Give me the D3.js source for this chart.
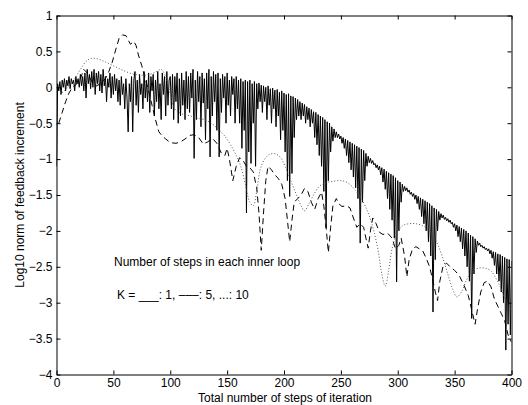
<!DOCTYPE html>
<html><head><meta charset="utf-8">
<script src="https://cdn.jsdelivr.net/npm/d3@7"></script>
<style>
body{margin:0;background:#fff}
svg{display:block}
text{font-family:"Liberation Sans",Arial,Helvetica,sans-serif;fill:#000}
</style>
</head><body>
<svg id="chart" width="528" height="405"></svg>
<script>
// K = 1 (solid): value at every step 0..400
const solidK1 = [
-1.1,0.05,-0.05,0.08,-0.1,0.1,0.0,0.12,-0.05,0.1,
0.02,0.15,-0.02,0.12,0.05,0.1,-0.05,0.15,0.05,0.12,
0.0,0.18,0.02,0.15,-0.05,0.2,-0.15,0.25,0.05,0.18,
-0.02,0.22,0.0,0.25,-0.1,0.2,0.05,0.22,-0.05,0.18,
-0.08,0.25,0.02,0.15,-0.2,0.12,0.0,0.2,-0.15,0.15,
-0.1,0.18,-0.05,0.12,-0.2,0.1,-0.25,0.15,-0.1,0.05,
-0.3,0.12,-0.15,-0.62,0.05,-0.2,0.15,-0.62,0.1,0.22,
-0.25,0.1,-0.35,0.18,-0.1,0.05,-0.3,0.22,-0.15,0.1,
-0.2,0.2,-0.35,0.15,-0.05,0.18,-0.4,0.1,-0.2,0.22,
-0.3,0.05,-0.45,0.2,-0.1,0.15,-0.4,0.22,-0.25,0.1,
0.15,-0.3,0.18,-0.45,0.15,-0.2,0.2,-0.5,0.12,-0.4,
0.2,-0.25,0.1,-0.45,0.22,-0.3,0.15,-0.35,0.2,-0.15,
0.25,-0.99,0.1,-0.45,0.22,-0.2,0.15,-0.55,0.2,-0.22,
0.12,-0.73,0.2,-0.3,0.25,-0.97,0.15,-0.4,0.22,-0.2,
0.18,-0.6,0.2,-0.97,0.12,-0.35,0.18,-0.15,0.15,-0.5,
0.2,-0.25,0.1,-0.4,0.15,-0.1,0.12,-0.5,0.15,-0.3,
0.1,-0.5,0.12,-0.85,0.08,-0.6,0.1,-1.75,0.08,-0.9,
0.1,-1.06,0.05,-0.5,0.08,-1.1,0.05,-0.3,0.06,-0.2,
0.03,-0.35,0.02,-0.2,0.0,-0.45,0.02,-0.25,-0.02,-0.5,
-0.01,-0.3,-0.04,-0.55,-0.03,-0.4,-0.07,-0.73,-0.05,-0.6,
-0.08,-0.9,-0.1,-1.3,-0.09,-1.52,-0.12,-1.2,-0.13,-0.7,
-0.15,-0.45,-0.17,-0.4,-0.2,-0.45,-0.22,-0.4,-0.24,-0.5,
-0.27,-0.45,-0.29,-0.55,-0.31,-0.5,-0.34,-0.7,-0.35,-0.8,
-0.38,-0.95,-0.4,-1.1,-0.42,-1.45,-0.45,-1.96,-0.48,-1.3,
-0.5,-0.9,-0.55,-0.75,-0.58,-0.7,-0.62,-0.7,-0.65,-0.72,
-0.68,-0.78,-0.7,-0.85,-0.72,-0.95,-0.74,-1.05,-0.76,-1.15,
-0.78,-1.25,-0.8,-1.4,-0.82,-1.55,-0.84,-2.17,-0.86,-1.6,
-0.88,-1.3,-0.92,-1.1,-0.96,-1.05,-0.99,-1.06,-1.02,-1.08,
-1.06,-1.12,-1.08,-1.15,-1.1,-1.22,-1.12,-1.32,-1.14,-1.42,
-1.17,-1.55,-1.19,-1.7,-1.21,-1.85,-1.23,-2.1,-1.26,-2.71,
-1.3,-2.0,-1.32,-1.6,-1.35,-1.45,-1.38,-1.44,-1.4,-1.46,
-1.43,-1.49,-1.46,-1.52,-1.48,-1.56,-1.5,-1.62,-1.52,-1.7,
-1.54,-1.8,-1.56,-1.9,-1.58,-2.0,-1.6,-2.15,-1.62,-2.35,
-1.65,-3.13,-1.68,-2.4,-1.7,-2.0,-1.73,-1.85,-1.76,-1.82,
-1.78,-1.84,-1.81,-1.86,-1.83,-1.88,-1.85,-1.9,-1.88,-1.95,
-1.9,-2.0,-1.92,-2.08,-1.94,-2.15,-1.96,-2.25,-1.98,-2.35,
-2.0,-2.5,-2.03,-2.7,-2.06,-3.22,-2.08,-2.6,-2.11,-2.3,
-2.14,-2.2,-2.17,-2.22,-2.2,-2.24,-2.22,-2.26,-2.24,-2.28,
-2.25,-2.32,-2.27,-2.38,-2.29,-2.48,-2.3,-2.6,-2.32,-2.7,
-2.33,-2.85,-2.35,-3.0,-2.37,-3.66,-2.39,-3.3,-2.4,-3.45,
-2.42
];

// K = 5 (dashed)
const dashedSteps = [2,5,8,11,14,18,21,24,27,31,35,39,43,46,49,52,55,58,61,63,
65,68,70,72,75,78,81,84,87,90,93,96,100,105,109,113,117,121,125,129,
133,137,141,145,148,150,152,155,158,161,164,167,170,173,176,178,180,182,184,186,
189,192,195,198,201,203,205,207,209,212,215,218,221,224,227,230,233,235,237,239,
241,243,246,248,251,255,258,261,264,267,270,272,274,276,278,281,284,287,291,295,
298,301,303,306,308,310,313,316,319,322,325,328,331,333,335,337,340,343,346,350,
354,358,362,365,368,370,373,376,379,382,385,388,391,394,397,400];
const dashedK5 = [-0.5,-0.35,-0.2,-0.08,0.0,0.05,0.12,0.25,0.2,0.08,
0.02,0.05,0.12,0.22,0.35,0.52,0.68,0.73,0.72,0.66,
0.6,0.64,0.58,0.45,0.3,0.12,-0.05,-0.25,-0.45,-0.62,
-0.68,-0.72,-0.77,-0.78,-0.76,-0.72,-0.67,-0.66,-0.7,-0.79,
-0.76,-0.71,-0.78,-0.92,-0.95,-0.85,-1.0,-1.3,-1.1,-0.98,
-1.02,-1.1,-1.12,-1.18,-1.4,-1.75,-2.27,-1.75,-1.3,-1.1,
-1.15,-1.22,-1.27,-1.35,-1.55,-1.85,-2.15,-1.85,-1.6,-1.55,
-1.5,-1.41,-1.45,-1.6,-1.7,-1.55,-1.46,-1.65,-1.95,-2.3,
-1.95,-1.65,-1.55,-1.62,-1.66,-1.65,-1.68,-1.82,-1.95,-1.9,
-1.95,-2.1,-2.24,-2.0,-1.82,-1.9,-2.02,-2.05,-2.03,-2.1,
-2.25,-2.2,-2.1,-2.35,-2.64,-2.4,-2.25,-2.22,-2.25,-2.28,
-2.38,-2.5,-2.7,-2.85,-2.97,-2.7,-2.48,-2.45,-2.5,-2.55,
-2.62,-2.75,-2.9,-3.1,-3.3,-3.1,-2.85,-2.72,-2.7,-2.78,
-2.95,-3.05,-3.15,-3.25,-3.45,-3.55];

// K = 10 (dotted)
const dottedSteps = [3,10,16,21,26,30,35,42,50,58,66,74,82,88,92,96,100,104,110,118,
124,130,136,142,148,153,158,162,166,170,173,176,179,183,188,193,197,201,206,211,
215,218,222,226,231,237,243,250,256,262,268,274,279,283,286,289,292,295,299,304,
310,316,322,328,334,339,344,348,352,356,360,365,371,377,382,387,392,396,400];
const dottedK10 = [-0.1,0.0,0.12,0.25,0.36,0.4,0.4,0.36,0.3,0.24,
0.19,0.17,0.18,0.22,0.25,0.15,-0.1,-0.3,-0.37,-0.4,
-0.43,-0.45,-0.5,-0.58,-0.68,-0.8,-0.95,-1.1,-1.35,-1.6,
-1.65,-1.45,-1.15,-1.0,-0.93,-0.93,-0.98,-1.1,-1.3,-1.5,
-1.65,-1.72,-1.62,-1.5,-1.38,-1.33,-1.31,-1.3,-1.33,-1.42,
-1.55,-1.75,-2.0,-2.3,-2.6,-2.77,-2.55,-2.25,-2.05,-1.93,
-1.9,-1.9,-1.93,-2.0,-2.15,-2.35,-2.6,-2.8,-2.92,-2.85,
-2.7,-2.57,-2.52,-2.52,-2.56,-2.68,-2.85,-3.0,-3.1];

const xTicks = [0,50,100,150,200,250,300,350,400];
const yTicks = [-4,-3.5,-3,-2.5,-2,-1.5,-1,-0.5,0,0.5,1];
const xLabel = "Total number of steps of iteration";
const yLabel = "Log10 norm of feedback increment";
const note1 = "Number of steps in each inner loop";
const note2 = "K = ___: 1, –––: 5, ...: 10";

const svg = d3.select("#chart");
const L = 56.5, R = 511.5, T = 15.5, B = 374.5;
const x = d3.scaleLinear().domain([0,400]).range([L,R]);
const y = d3.scaleLinear().domain([-4,1]).range([B,T]);

const fmt = d => (d < 0 ? "\u2212" + String(-d) : String(d));

function styleAxis(g){
  g.selectAll("path.domain").attr("stroke","#000").attr("stroke-width",1);
  g.selectAll(".tick line").attr("stroke","#000").attr("stroke-width",1);
  g.selectAll(".tick text").attr("font-size",12).attr("font-family","'Liberation Sans',Arial,sans-serif").attr("fill","#000");
}

svg.append("g").attr("transform",`translate(0,${B})`)
  .call(d3.axisBottom(x).tickValues(xTicks).tickFormat(fmt).tickSizeInner(-4).tickSizeOuter(0).tickPadding(4))
  .call(styleAxis);
svg.append("g").attr("transform",`translate(0,${T})`)
  .call(d3.axisTop(x).tickValues(xTicks).tickFormat("").tickSizeInner(-4).tickSizeOuter(0))
  .call(styleAxis);
svg.append("g").attr("transform",`translate(${L},0)`)
  .call(d3.axisLeft(y).tickValues(yTicks).tickFormat(fmt).tickSizeInner(-4).tickSizeOuter(0).tickPadding(4))
  .call(styleAxis);
svg.append("g").attr("transform",`translate(${R},0)`)
  .call(d3.axisRight(y).tickValues(yTicks).tickFormat("").tickSizeInner(-4).tickSizeOuter(0))
  .call(styleAxis);

svg.append("clipPath").attr("id","clip").append("rect")
  .attr("x",L).attr("y",T).attr("width",R-L).attr("height",B-T);
const plot = svg.append("g").attr("clip-path","url(#clip)");

const lineLin = d3.line().x(d=>x(d[0])).y(d=>y(d[1]));
const lineSmooth = d3.line().x(d=>x(d[0])).y(d=>y(d[1])).curve(d3.curveCatmullRom.alpha(0.5));

plot.append("path")
  .attr("d", lineLin(solidK1.map((v,i)=>[i,v])))
  .attr("fill","none").attr("stroke","#000").attr("stroke-width",1);

plot.append("path")
  .attr("d", lineLin(dashedSteps.map((s,i)=>[s,dashedK5[i]])))
  .attr("fill","none").attr("stroke","#000").attr("stroke-width",1)
  .attr("stroke-dasharray","6,4");

plot.append("path")
  .attr("d", lineSmooth(dottedSteps.map((s,i)=>[s,dottedK10[i]])))
  .attr("fill","none").attr("stroke","#555").attr("stroke-width",1)
  .attr("stroke-dasharray","1,2");

svg.append("text").attr("x",285).attr("y",401.5).attr("text-anchor","middle")
  .attr("font-size",12).text(xLabel);
svg.append("text").attr("transform","translate(24,195) rotate(-90)").attr("text-anchor","middle")
  .attr("font-size",12).text(yLabel);
svg.append("text").attr("x",114).attr("y",265.5).attr("font-size",12).text(note1);
svg.append("text").attr("x",117).attr("y",299).attr("font-size",12).text(note2);
</script>
</body></html>
